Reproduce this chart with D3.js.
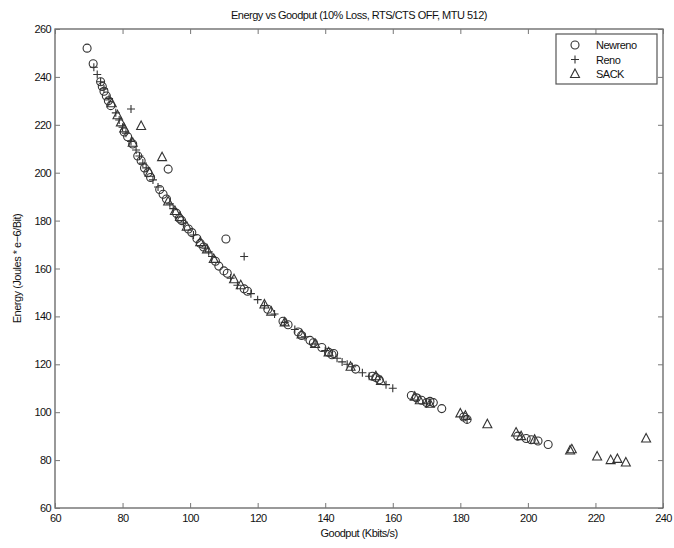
<!DOCTYPE html>
<html><head><meta charset="utf-8">
<script src="https://cdn.jsdelivr.net/npm/d3@7"></script>
<style>body{margin:0;background:#fff;} svg{display:block;} text{font-family:"Liberation Sans",Arial,sans-serif;fill:#111;}</style>
</head><body><svg id="c" width="674" height="548"></svg>
<script>
const title = "Energy vs Goodput (10% Loss, RTS/CTS OFF, MTU 512)";
const xLabel = "Goodput (Kbits/s)";
const yLabel = "Energy (Joules * e\u22126/Bit)";
const xTicks = [60,80,100,120,140,160,180,200,220,240];
const yTicks = [60,80,100,120,140,160,180,200,220,240,260];
const seriesNames = ["Newreno","Reno","SACK"];

const newrenoX = [69.5,71.3,73.5,74.0,74.5,75.2,75.8,76.5,80.5,81.5,83,84.5,85.5,86.5,87.5,88.3,91,92,93,93.5,96,96.8,97.5,99.5,100.5,102,103,104,107.5,108.5,110.6,110,111,116,117,123,127.5,129,132,133,135.5,136.5,139,141,142,142.5,149,154,155,156,165.5,167,168.5,170,171,172,174.5,181,182,197,199.5,201,203,206];
const newrenoY = [252,245.5,238,236,234,232,230,228,217,215,212,207,205,202,200,198,193,191,189,201.5,183,181,180,176.5,175,172.5,170.5,169,163,161,172.3,159,158,151.5,150.5,143,138,136.5,133.5,132,130,129,127,125,124,124.5,118,115,114.5,113.5,107,106,105,104,104.5,104,101.5,98,97,90,89,88.5,88,86.5];

const renoX = [71.5,72.5,73.5,74.5,76,78,79,80,81,82.5,82.5,84,85,86,87,89,90.5,94,95,98,101,104.5,105.5,106.5,112,114,116,118,120,122,125,128,131,134,137,140,143.5,145,146.5,148,151,153,158,160,170,182];
const renoY = [244,241,238,235,231,225,222,219,216.5,226.6,213,209.5,207,204,202,197,194,187,185,179,174,168.5,167,165,156,153,165,149.5,147,144.5,141,137.5,134.5,131.5,128.5,125.7,122.5,121,120,119,116.5,115,111.5,110,103.5,97];

const sackX = [76.8,78.5,79.5,80.5,83,85.5,88,91.7,93.5,95.5,97,99,103,105,107,113,115,122,124,128,133,137,141,147.5,155,156.5,166.5,168,171,180,181.5,188,196.5,198,202,212.5,213,220.5,224.5,226.5,229,235];
const sackY = [229,224,221,218.5,212.5,219.5,200,206.5,188,184,181.5,177.5,171,168,164,155.5,153,145,142,137.5,132.5,128.5,125,119,115,113,106.5,105,103.5,99.5,98.5,95,91.5,90,88.5,84,84.5,81.5,80,80.5,79,89];

const W=674,H=548;
const m={l:55,r:11,t:29,b:40};
const svg=d3.select("#c");
const x=d3.scaleLinear().domain([60,240]).range([m.l,W-m.r]);
const y=d3.scaleLinear().domain([60,260]).range([H-m.b,m.t]);
const ink="#333";

// frame
svg.append("rect").attr("x",x(60)).attr("y",y(260)).attr("width",x(240)-x(60)).attr("height",y(60)-y(260))
  .attr("fill","none").attr("stroke","#555").attr("stroke-width",1.2);

const tl=5;
const axB=svg.append("g").attr("transform",`translate(0,${y(60)})`).call(d3.axisBottom(x).tickValues(xTicks).tickSize(-tl).tickPadding(6));
const axT=svg.append("g").attr("transform",`translate(0,${y(260)})`).call(d3.axisTop(x).tickValues(xTicks).tickSize(-tl).tickFormat(""));
const axL=svg.append("g").attr("transform",`translate(${x(60)},0)`).call(d3.axisLeft(y).tickValues(yTicks).tickSize(-tl).tickPadding(4));
const axR=svg.append("g").attr("transform",`translate(${x(240)},0)`).call(d3.axisRight(y).tickValues(yTicks).tickSize(-tl).tickFormat(""));
[axB,axT,axL,axR].forEach(g=>{
  g.select(".domain").remove();
  g.selectAll(".tick line").attr("stroke","#777");
  g.selectAll("text").style("font-family","'Liberation Sans',Arial,sans-serif").style("font-size","11px").attr("fill","#111").style("letter-spacing","-0.6px");
});

svg.append("text").attr("x",(x(60)+x(240))/2).attr("y",19).attr("text-anchor","middle").style("font-size","11px").style("letter-spacing","-0.5px").text(title);
svg.append("text").attr("x",(x(60)+x(240))/2).attr("y",537).attr("text-anchor","middle").style("font-size","11px").style("letter-spacing","-0.5px").text(xLabel);
svg.append("text").attr("transform",`translate(21,${(y(60)+y(260))/2}) rotate(-90)`).attr("text-anchor","middle").style("font-size","11px").style("letter-spacing","-0.5px").text(yLabel);

function circle(g,cx,cy){g.append("circle").attr("cx",cx).attr("cy",cy).attr("r",4).attr("fill","none").attr("stroke",ink).attr("stroke-width",1.1);}
function plus(g,cx,cy){g.append("path").attr("d",`M${cx-4},${cy}H${cx+4}M${cx},${cy-4}V${cy+4}`).attr("stroke",ink).attr("stroke-width",1.1).attr("fill","none");}
function tri(g,cx,cy){g.append("path").attr("d",`M${cx},${cy-5}L${cx+4.5},${cy+3.5}L${cx-4.5},${cy+3.5}Z`).attr("stroke",ink).attr("stroke-width",1.1).attr("fill","none");}

const gp=svg.append("g");
newrenoX.forEach((v,i)=>circle(gp,x(v),y(newrenoY[i])));
renoX.forEach((v,i)=>plus(gp,x(v),y(renoY[i])));
sackX.forEach((v,i)=>tri(gp,x(v),y(sackY[i])));

// legend
const lg=svg.append("g");
lg.append("rect").attr("x",556).attr("y",34).attr("width",101).attr("height",50).attr("fill","#fff").attr("stroke","#555").attr("stroke-width",1.2);
const mk=[circle,plus,tri];
seriesNames.forEach((n,i)=>{
  const cy=45+i*14.5;
  mk[i](lg,575,cy);
  lg.append("text").attr("x",596).attr("y",cy+4).style("font-size","11px").style("letter-spacing","-0.5px").text(n);
});
</script></body></html>
